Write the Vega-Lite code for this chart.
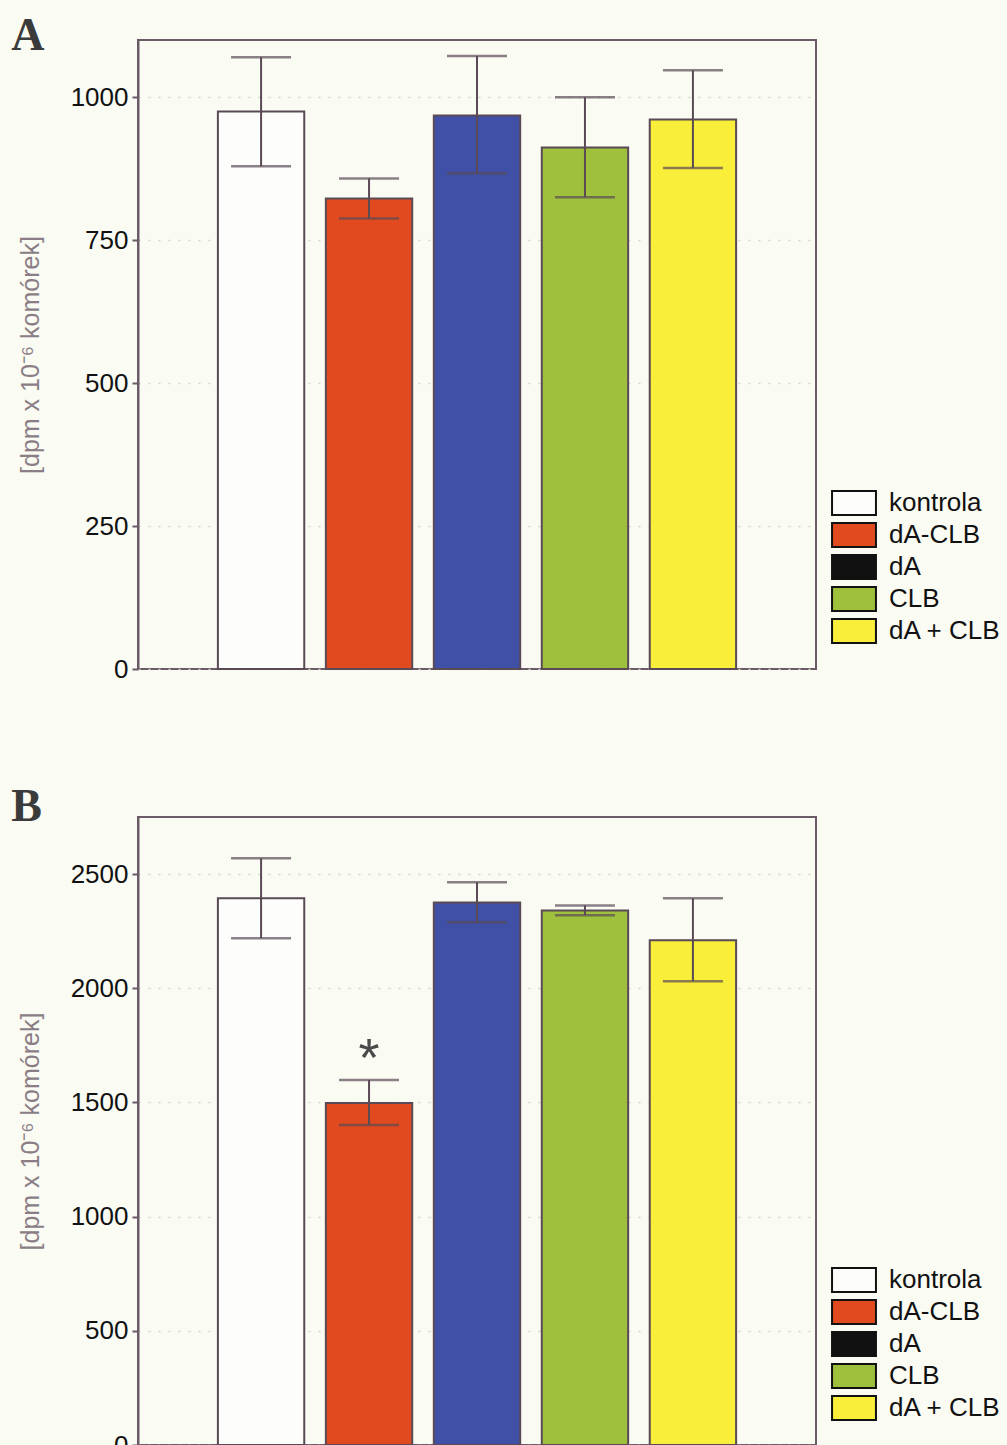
{
  "$schema": "https://vega.github.io/schema/vega-lite/v6.json",
  "background": "#fafbf3",
  "padding": {"left": 10, "top": 12, "right": 5, "bottom": 0},
  "spacing": 100,
  "resolve": {"scale": {"fill": "independent", "color": "independent"}, "legend": {"fill": "independent", "color": "independent"}},
  "config": {
    "font": "Liberation Sans",
    "view": {"stroke": "#6b5b66", "strokeWidth": 2},
    "axis": {
      "labelFontSize": 26, "labelColor": "#111", "labelFont": "Liberation Sans", "format": "d",
      "tickColor": "#6b5b66", "tickSize": 6, "tickWidth": 2,
      "domainColor": "#6b5b66", "domainWidth": 2,
      "titleFontSize": 25, "titleColor": "#8a7d85", "titleFontWeight": "normal", "titleFont": "Liberation Sans",
      "grid": true, "gridColor": "#d6d6cc", "gridDash": [2, 8], "gridWidth": 1.5,
      "labelPadding": 4, "titlePadding": 27
    },
    "legend": {
      "padding": 0, "labelFont": "Liberation Sans", "labelFontSize": 26, "labelColor": "#111",
      "labelOffset": 22, "rowPadding": 0
    },
    "title": {"anchor": "start", "frame": "bounds", "font": "Liberation Serif", "fontSize": 46, "fontWeight": "bold", "color": "#3b3b3b", "offset": -20, "dx": -7}
  },
  "datasets": {
    "A": [
      {"group": "kontrola", "value": 975, "lo": 879, "hi": 1070, "sig": ""},
      {"group": "dA-CLB", "value": 823, "lo": 788, "hi": 858, "sig": ""},
      {"group": "dA", "value": 968, "lo": 867, "hi": 1072, "sig": ""},
      {"group": "CLB", "value": 912, "lo": 825, "hi": 1000, "sig": ""},
      {"group": "dA + CLB", "value": 961, "lo": 876, "hi": 1047, "sig": ""}
    ],
    "B": [
      {"group": "kontrola", "value": 2394, "lo": 2219, "hi": 2569, "sig": ""},
      {"group": "dA-CLB", "value": 1498, "lo": 1401, "hi": 1598, "sig": "*"},
      {"group": "dA", "value": 2376, "lo": 2289, "hi": 2464, "sig": ""},
      {"group": "CLB", "value": 2341, "lo": 2320, "hi": 2363, "sig": ""},
      {"group": "dA + CLB", "value": 2210, "lo": 2031, "hi": 2394, "sig": ""}
    ]
  },
  "vconcat": [
    {
      "width": 678, "height": 629,
      "title": {"text": "A"},
      "data": {"name": "A"},
      "encoding": {
        "x": {"field": "group", "type": "nominal", "sort": null, "axis": null, "scale": {"paddingInner": 0.2, "paddingOuter": 0.74}}
      },
      "layer": [
        {
          "mark": {"type": "bar", "stroke": "#5a4a55", "strokeWidth": 2},
          "encoding": {
            "y": {"field": "value", "type": "quantitative", "title": "[dpm x 10⁻⁶ komórek]", "scale": {"domain": [0, 1100], "nice": false}, "axis": {"values": [0, 250, 500, 750, 1000]}},
            "fill": {"field": "group", "type": "nominal", "sort": null, "legend": null,
              "scale": {"range": ["#fdfefb", "#e04a1e", "#3f50a6", "#9ec03c", "#f9ee3a"]}}
          }
        },
        {
          "mark": {"type": "rule", "color": "#5a4a55", "strokeWidth": 2},
          "encoding": {"y": {"field": "lo", "type": "quantitative", "title": "[dpm x 10⁻⁶ komórek]"}, "y2": {"field": "hi"}}
        },
        {
          "mark": {"type": "tick", "color": "#5a4a55", "size": 60, "thickness": 2.5},
          "encoding": {"y": {"field": "hi", "type": "quantitative", "title": "[dpm x 10⁻⁶ komórek]"}}
        },
        {
          "mark": {"type": "tick", "color": "#5a4a55", "size": 60, "thickness": 2.5},
          "encoding": {"y": {"field": "lo", "type": "quantitative", "title": "[dpm x 10⁻⁶ komórek]"}}
        },
        {
          "mark": {"type": "square", "opacity": 0},
          "encoding": {
            "y": {"field": "value", "type": "quantitative", "title": "[dpm x 10⁻⁶ komórek]"},
            "color": {"field": "group", "type": "nominal", "sort": null,
              "scale": {"domain": ["kontrola", "dA-CLB", "dA", "CLB", "dA + CLB"], "range": ["#fdfefb", "#e04a1e", "#111111", "#9ec03c", "#f9ee3a"]},
              "legend": {"title": null, "orient": "none", "legendX": 703, "legendY": 450,
                "symbolType": "M-1.83,-1L1.83,-1L1.83,1L-1.83,1Z", "symbolSize": 576, "symbolOpacity": 1,
                "symbolStrokeColor": "#111111", "symbolStrokeWidth": 2}}
          }
        }
      ]
    },
    {
      "width": 678, "height": 628,
      "title": {"text": "B"},
      "data": {"name": "B"},
      "encoding": {
        "x": {"field": "group", "type": "nominal", "sort": null, "axis": null, "scale": {"paddingInner": 0.2, "paddingOuter": 0.74}}
      },
      "layer": [
        {
          "mark": {"type": "bar", "stroke": "#5a4a55", "strokeWidth": 2},
          "encoding": {
            "y": {"field": "value", "type": "quantitative", "title": "[dpm x 10⁻⁶ komórek]", "scale": {"domain": [0, 2750], "nice": false}, "axis": {"values": [0, 500, 1000, 1500, 2000, 2500]}},
            "fill": {"field": "group", "type": "nominal", "sort": null, "legend": null,
              "scale": {"range": ["#fdfefb", "#e04a1e", "#3f50a6", "#9ec03c", "#f9ee3a"]}}
          }
        },
        {
          "mark": {"type": "rule", "color": "#5a4a55", "strokeWidth": 2},
          "encoding": {"y": {"field": "lo", "type": "quantitative", "title": "[dpm x 10⁻⁶ komórek]"}, "y2": {"field": "hi"}}
        },
        {
          "mark": {"type": "tick", "color": "#5a4a55", "size": 60, "thickness": 2.5},
          "encoding": {"y": {"field": "hi", "type": "quantitative", "title": "[dpm x 10⁻⁶ komórek]"}}
        },
        {
          "mark": {"type": "tick", "color": "#5a4a55", "size": 60, "thickness": 2.5},
          "encoding": {"y": {"field": "lo", "type": "quantitative", "title": "[dpm x 10⁻⁶ komórek]"}}
        },
        {
          "mark": {"type": "text", "fontSize": 54, "color": "#4a4a4a", "baseline": "alphabetic", "dy": -4, "font": "Liberation Sans"},
          "encoding": {"y": {"field": "hi", "type": "quantitative", "title": "[dpm x 10⁻⁶ komórek]"}, "text": {"field": "sig"}}
        },
        {
          "mark": {"type": "square", "opacity": 0},
          "encoding": {
            "y": {"field": "value", "type": "quantitative", "title": "[dpm x 10⁻⁶ komórek]"},
            "color": {"field": "group", "type": "nominal", "sort": null,
              "scale": {"domain": ["kontrola", "dA-CLB", "dA", "CLB", "dA + CLB"], "range": ["#fdfefb", "#e04a1e", "#111111", "#9ec03c", "#f9ee3a"]},
              "legend": {"title": null, "orient": "none", "legendX": 703, "legendY": 450,
                "symbolType": "M-1.83,-1L1.83,-1L1.83,1L-1.83,1Z", "symbolSize": 576, "symbolOpacity": 1,
                "symbolStrokeColor": "#111111", "symbolStrokeWidth": 2}}
          }
        }
      ]
    }
  ]
}
